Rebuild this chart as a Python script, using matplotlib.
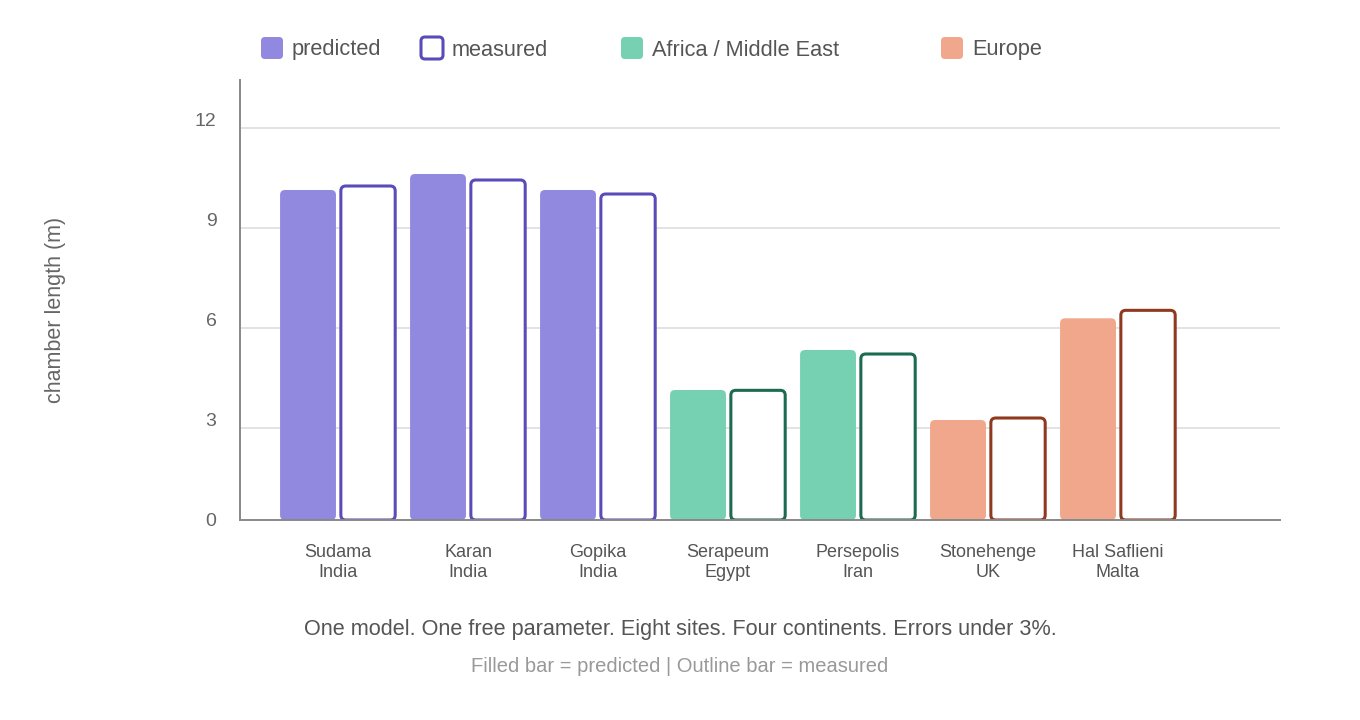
import numpy as np
import matplotlib
matplotlib.use("Agg")
import matplotlib.pyplot as plt
from matplotlib.patches import FancyBboxPatch
from matplotlib.transforms import ScaledTranslation

plt.rcParams["font.family"] = ["Liberation Sans", "DejaVu Sans"]

# ---- data ----
sites = ["Sudama", "Karan", "Gopika", "Serapeum", "Persepolis", "Stonehenge", "Hal Saflieni"]
countries = ["India", "India", "India", "Egypt", "Iran", "UK", "Malta"]
regions = ["India", "India", "India", "Africa", "Africa", "Europe", "Europe"]
predicted = [9.90, 10.38, 9.90, 3.90, 5.10, 3.00, 6.05]
measured = [10.02, 10.20, 9.78, 3.89, 4.98, 3.06, 6.29]

legend_labels = ["predicted", "measured", "Africa / Middle East", "Europe"]
caption = "One model. One free parameter. Eight sites. Four continents. Errors under 3%."
subcaption = "Filled bar = predicted | Outline bar = measured"

fill_col = {"India": "#9189e0", "Africa": "#76d0b2", "Europe": "#f0a78c"}
edge_col = {"India": "#5a4cb8", "Africa": "#1b6a51", "Europe": "#8f3a1f"}

fig = plt.figure(figsize=(13.6, 7.2), dpi=100)
ax = fig.add_axes([240 / 1360, 200 / 720, 1040 / 1360, 440 / 720])

x = np.arange(len(sites))
w = 0.43
off = 0.2308
# pixels per data unit (x: 130, y: 33.33) -> keep corners round
r = 0.038
asp = 130 / 33.33

for i in range(len(sites)):
    reg = regions[i]
    p = FancyBboxPatch((x[i] - off - w / 2, 0), w, predicted[i],
                       boxstyle=f"round,pad=0,rounding_size={r}",
                       mutation_aspect=asp, facecolor=fill_col[reg],
                       edgecolor="none", zorder=3)
    ax.add_patch(p)
    m = FancyBboxPatch((x[i] + off - w / 2 + 0.006, 0), w - 0.012, measured[i],
                       boxstyle=f"round,pad=0,rounding_size={r}",
                       mutation_aspect=asp, facecolor="white",
                       edgecolor=edge_col[reg], linewidth=2.2, zorder=3)
    ax.add_patch(m)

ax.set_xlim(-0.754, 7.246)
ax.set_ylim(0, 13.2)
ax.set_yticks([0, 3, 6, 9, 12])
ax.set_xticks(x)
ax.set_xticklabels([s + "\n" + c for s, c in zip(sites, countries)], linespacing=1.27)
ax.tick_params(axis="y", length=0, pad=17, labelsize=14, labelcolor="#666666")
ax.tick_params(axis="x", length=0, pad=17, labelsize=13, labelcolor="#555555")
ax.grid(axis="y", color="#e3e3e3", linewidth=1.4, zorder=0)
ax.set_axisbelow(True)
for s in ["top", "right"]:
    ax.spines[s].set_visible(False)
for s in ["left", "bottom"]:
    ax.spines[s].set_color("#888888")
    ax.spines[s].set_linewidth(1.4)
    ax.spines[s].set_zorder(4)

# grid sits a few px under the labels in the original
shift = ScaledTranslation(0, -8 / 100, fig.dpi_scale_trans)
for gl in ax.get_ygridlines():
    gl.set_transform(gl.get_transform() + shift)

fig.text(55 / 1360, 1 - 310 / 720, "chamber length (m)", rotation=90,
         ha="center", va="center", fontsize=15.5, color="#666666")

# ---- legend + captions on a pixel overlay ----
ov = fig.add_axes([0, 0, 1, 1], zorder=-1)
ov.set_xlim(0, 1360)
ov.set_ylim(720, 0)
ov.axis("off")

leg_x = [260, 420, 620, 940]
leg_face = [fill_col["India"], "white", fill_col["Africa"], fill_col["Europe"]]
leg_edge = ["none", edge_col["India"], "none", "none"]
for lx, lab, fc, ec in zip(leg_x, legend_labels, leg_face, leg_edge):
    sq = FancyBboxPatch((lx + 1, 37), 22, 22, boxstyle="round,pad=0,rounding_size=4",
                        facecolor=fc, edgecolor=ec, linewidth=2.2)
    ov.add_patch(sq)
    ov.text(lx + 32, 50, lab, ha="left", va="center", fontsize=15.7, color="#555555")

ov.text(680, 630, caption, ha="center", va="center", fontsize=15.6, color="#555555")
ov.text(680, 666, subcaption, ha="center", va="center", fontsize=14.5, color="#999999")

fig.savefig("out.png", dpi=100, facecolor="white")
